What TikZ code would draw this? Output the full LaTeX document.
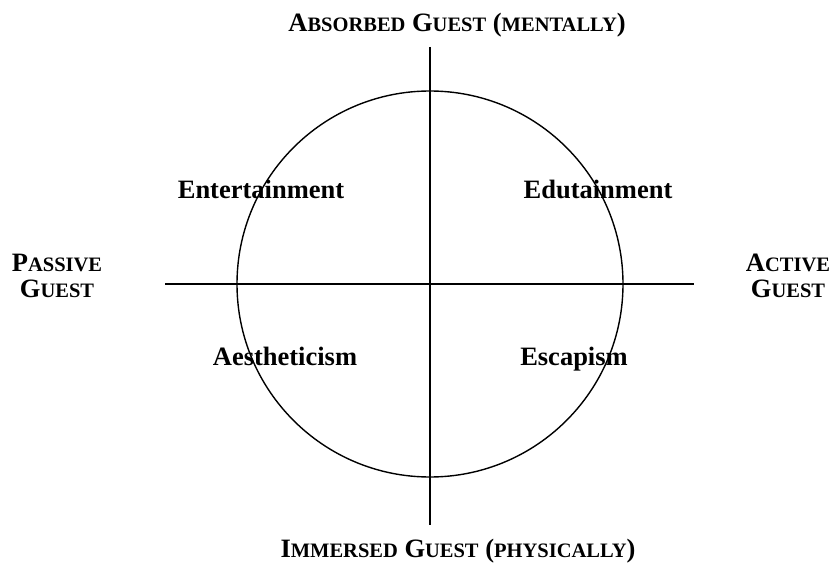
\documentclass[tikz,border=0pt]{standalone}
\usepackage{fontspec}
\setmainfont{Liberation Serif}
\newcommand{\bigc}[1]{{\fontsize{26.5}{30}\selectfont #1}}
\newcommand{\smc}[1]{{\fontsize{20.5}{30}\selectfont #1}}
\begin{document}
\begin{tikzpicture}[x=1pt,y=-1pt,
  lab/.style={font=\bfseries\fontsize{26.5}{30}\selectfont, inner sep=0pt, anchor=base},
  axl/.style={font=\bfseries\fontsize{26.5}{30}\selectfont, inner sep=0pt, anchor=base},
  ln/.style={line width=1.4pt}]
\useasboundingbox (0,0) rectangle (836,564);
\coordinate (c) at (430,284);
\draw[ln] (c) circle [radius=193];
\coordinate (top) at (430,47);
\coordinate (bot) at (430,525);
\coordinate (lft) at (165,284);
\coordinate (rgt) at (694,284);
\draw[ln] (top) -- (bot);
\draw[ln] (lft) -- (rgt);
\node[lab] (ent) at (261,199) {Entertainment};
\node[lab] (edu) at (598,199) {Edutainment};
\node[lab] (aes) at (285,365) {Aestheticism};
\node[lab] (esc) at (574,365) {Escapism};
\node[axl] (abs) at (457,32) {\bigc{A}\smc{BSORBED} \bigc{G}\smc{UEST} \bigc{(}\smc{MENTALLY}\bigc{)}};
\node[axl] (imm) at (458,557) {\bigc{I}\smc{MMERSED} \bigc{G}\smc{UEST} \bigc{(}\smc{PHYSICALLY}\bigc{)}};
\node[axl] (pas1) at (57,272) {\bigc{P}\smc{ASSIVE}};
\node[axl] (pas2) at (57,298) {\bigc{G}\smc{UEST}};
\node[axl] (act1) at (788,272) {\bigc{A}\smc{CTIVE}};
\node[axl] (act2) at (788,298) {\bigc{G}\smc{UEST}};
\end{tikzpicture}
\end{document}
